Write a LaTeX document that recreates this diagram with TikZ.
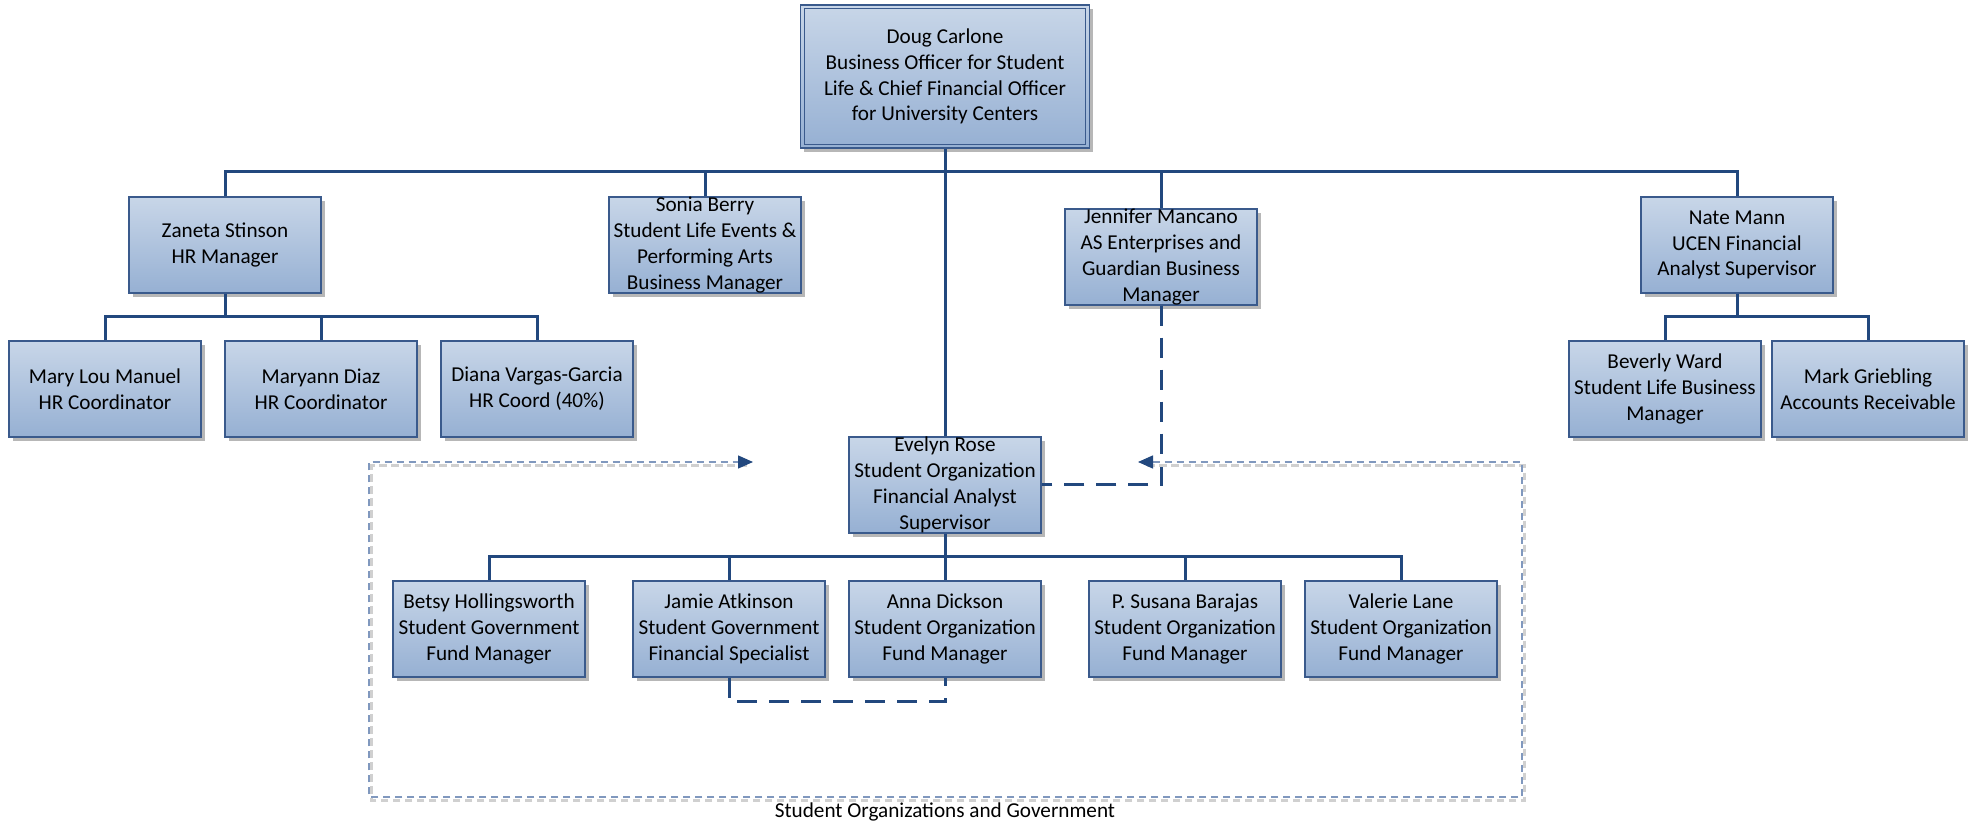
\documentclass[tikz,border=0pt]{standalone}
\usepackage{fontspec}
\setmainfont{Carlito}
\usetikzlibrary{shadows,arrows.meta}
\definecolor{boxtop}{RGB}{200,214,232}
\definecolor{boxbot}{RGB}{150,176,211}
\definecolor{boxline}{RGB}{58,90,140}
\definecolor{conn}{RGB}{34,72,126}
\definecolor{grayline}{RGB}{128,152,190}
\definecolor{grayshadow}{RGB}{208,208,208}
\begin{document}
\begin{tikzpicture}[x=0.5pt,y=-0.5pt,
  orgbox/.style={draw=boxline, line width=0.7pt, top color=boxtop, bottom color=boxbot,
    minimum width=96pt, minimum height=48pt, inner sep=0pt,
    drop shadow={shadow xshift=1.8pt, shadow yshift=-1.8pt, opacity=0.4, fill=black!70}},
  boxtext/.style={align=center, font=\fontsize{10.6pt}{12.9pt}\selectfont, inner sep=0pt, text=black},
  connline/.style={draw=conn, line width=1.5pt},
  dashline/.style={draw=conn, line width=1.5pt, dash pattern=on 10pt off 6pt},
  grouppath/.style={draw=grayline, line width=0.7pt, dash pattern=on 3.6pt off 2.4pt},
  groupshadow/.style={draw=grayshadow, line width=1.4pt, dash pattern=on 3.6pt off 2.4pt}
]
\useasboundingbox (0,0) rectangle (1977,823);

% top
\node[orgbox, minimum width=144.5pt, minimum height=71.5pt,
  label={[boxtext]center:{Doug Carlone\\Business Officer for Student\\Life \& Chief Financial Officer\\for University Centers}}]
  (doug) at (945,76.5) {};
\draw[draw=boxline, line width=0.6pt] ([shift={(2.2pt,-2.2pt)}]doug.north west) rectangle ([shift={(-2.2pt,2.2pt)}]doug.south east);

% second level
\node[orgbox, label={[boxtext]center:{Zaneta Stinson\\HR Manager}}] (zaneta) at (225,245) {};
\node[orgbox, label={[boxtext]center:{Sonia Berry\\Student Life Events \&\\Performing Arts\\Business Manager}}] (sonia) at (705,245) {};
\node[orgbox, label={[boxtext]center:{Jennifer Mancano\\AS Enterprises and\\Guardian Business\\Manager}}] (jennifer) at (1161,257) {};
\node[orgbox, label={[boxtext]center:{Nate Mann\\UCEN Financial\\Analyst Supervisor}}] (nate) at (1737,245) {};

% HR staff
\node[orgbox, label={[boxtext]center:{Mary Lou Manuel\\HR Coordinator}}] (marylou) at (105,389) {};
\node[orgbox, label={[boxtext]center:{Maryann Diaz\\HR Coordinator}}] (maryann) at (321,389) {};
\node[orgbox, label={[boxtext]center:{Diana Vargas-Garcia\\HR Coord (40\%)}}] (diana) at (537,389) {};

% UCEN staff
\node[orgbox, label={[boxtext]center:{Beverly Ward\\Student Life Business\\Manager}}] (beverly) at (1665,389) {};
\node[orgbox, label={[boxtext]center:{Mark Griebling\\Accounts Receivable}}] (mark) at (1868,389) {};

% student orgs
\node[orgbox, label={[boxtext]center:{Evelyn Rose\\Student Organization\\Financial Analyst\\Supervisor}}] (evelyn) at (945,485) {};
\node[orgbox, label={[boxtext]center:{Betsy Hollingsworth\\Student Government\\Fund Manager}}] (betsy) at (489,629) {};
\node[orgbox, label={[boxtext]center:{Jamie Atkinson\\Student Government\\Financial Specialist}}] (jamie) at (729,629) {};
\node[orgbox, label={[boxtext]center:{Anna Dickson\\Student Organization\\Fund Manager}}] (anna) at (945,629) {};
\node[orgbox, label={[boxtext]center:{P. Susana Barajas\\Student Organization\\Fund Manager}}] (susana) at (1185,629) {};
\node[orgbox, label={[boxtext]center:{Valerie Lane\\Student Organization\\Fund Manager}}] (valerie) at (1401,629) {};

% bus levels
\coordinate (topbus) at (0,172);
\coordinate (subbus) at (0,317);
\coordinate (orgbus) at (0,557);

% top connectors
\draw[connline] (doug.south) -- (evelyn.north);
\draw[connline] (zaneta.north) -- (zaneta.north |- topbus) -- (nate.north |- topbus) -- (nate.north);
\draw[connline] (sonia.north) -- (sonia.north |- topbus);
\draw[connline] (jennifer.north) -- (jennifer.north |- topbus);

% HR connectors
\draw[connline] (zaneta.south) -- (zaneta.south |- subbus);
\draw[connline] (marylou.north) -- (marylou.north |- subbus) -- (diana.north |- subbus) -- (diana.north);
\draw[connline] (maryann.north) -- (maryann.north |- subbus);

% UCEN connectors
\draw[connline] (nate.south) -- (nate.south |- subbus);
\draw[connline] (beverly.north) -- (beverly.north |- subbus) -- (mark.north |- subbus) -- (mark.north);

% student org connectors
\draw[connline] (evelyn.south) -- (anna.north);
\draw[connline] (betsy.north) -- (betsy.north |- orgbus) -- (valerie.north |- orgbus) -- (valerie.north);
\draw[connline] (jamie.north) -- (jamie.north |- orgbus);
\draw[connline] (susana.north) -- (susana.north |- orgbus);

% dashed relations
\draw[dashline] (jennifer.south) |- (evelyn.east);
\draw[dashline] (jamie.south) -- ++(0,24) -| (anna.south);

% group container
\coordinate (gA) at (1138,462);
\coordinate (gB) at (753,462);
\draw[groupshadow, shift={(1.2pt,-1.8pt)}] (1145,462) -- (1522,462) -- (1522,797) -- (369,797) -- (369,462) -- (746,462);
\draw[grouppath, {Triangle[length=7.5pt,width=6.5pt,color=conn]}-{Triangle[length=7.5pt,width=6.5pt,color=conn]}]
  (gA) -- (1522,462) -- (1522,797) -- (369,797) -- (369,462) -- (gB);
\node[boxtext, anchor=center] (caption) at (945,812) {Student Organizations and Government};
\end{tikzpicture}
\end{document}
